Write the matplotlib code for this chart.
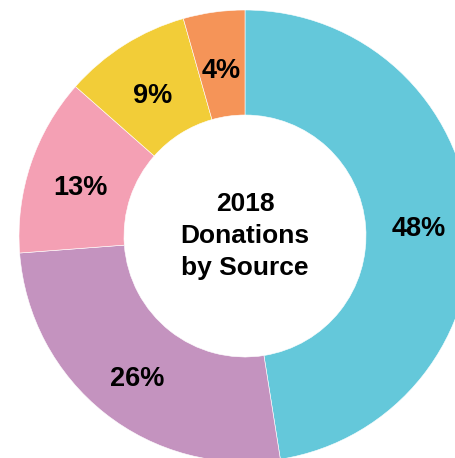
import matplotlib.pyplot as plt

# shares; labels as printed on the chart
shares = [47.5, 26.3, 12.7, 9.1, 4.4]
labels = ["48%", "26%", "13%", "9%", "4%"]
colors = ["#64C8DA", "#C493BF", "#F4A0B4", "#F2CD38", "#F59458"]
center_title = "2018\nDonations\nby Source"

plt.rcParams['font.family'] = ['Liberation Sans', 'DejaVu Sans']

fig = plt.figure(figsize=(4.55, 4.58), dpi=100)
ax = fig.add_axes([0, 0, 1, 1])

wedges, texts = ax.pie(
    shares, colors=colors, startangle=90, counterclock=False,
    radius=226, center=(245, 222),
    labels=labels, labeldistance=0.77,
    wedgeprops=dict(width=105, edgecolor='white', linewidth=0.4),
    textprops=dict(fontsize=19.5, fontweight='bold', color='black'))

for t in texts:
    t.set_horizontalalignment('center')
    t.set_verticalalignment('center')
    x, y = t.get_position()
    t.set_position((x, y - 7))

ax.set_xlim(0, 455)
ax.set_ylim(0, 458)
ax.set_aspect('equal')
ax.axis('off')

ax.text(245, 222, center_title, ha='center', va='center', fontsize=19,
        fontweight='bold', linespacing=1.4)

plt.savefig("out.png", dpi=100)
